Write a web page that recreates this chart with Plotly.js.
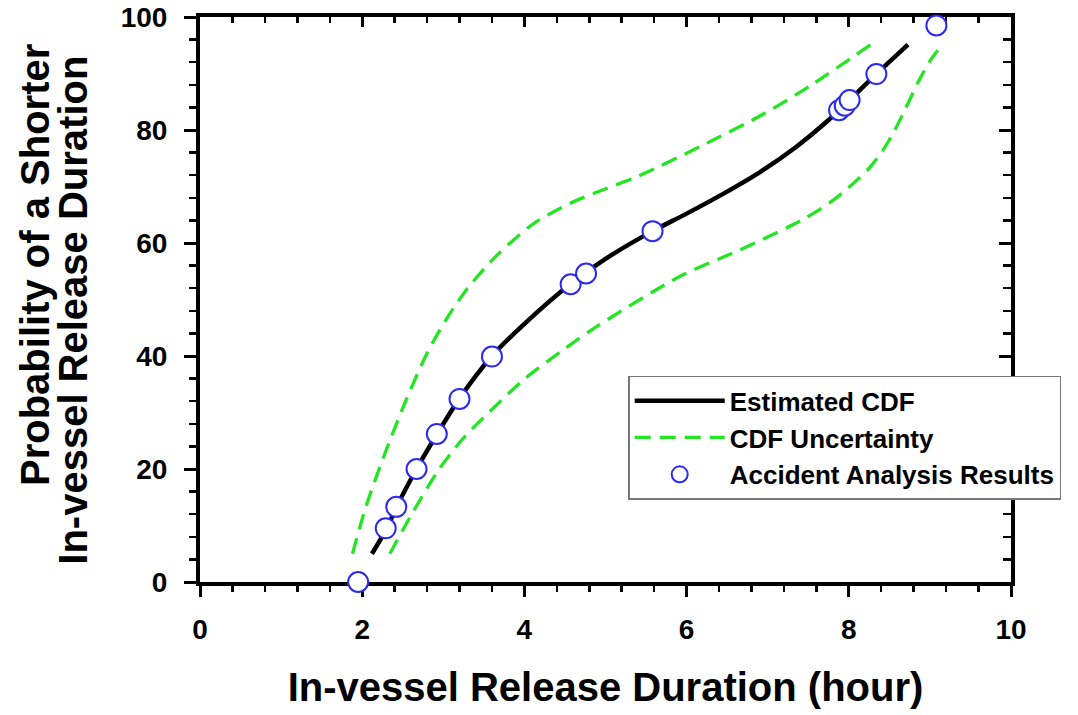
<!DOCTYPE html>
<html>
<head>
<meta charset="utf-8">
<script src="https://cdn.plot.ly/plotly-3.0.1.min.js"></script>
<style>html,body{margin:0;padding:0;background:#fff;}#chart{width:1078px;height:715px;}</style>
</head>
<body>
<div id="chart"></div>
<script>
// Estimated CDF (solid black)
const cdfX = [2.12, 2.3, 2.42, 2.67, 2.92, 3.2, 3.6, 4.0, 4.57, 5.0, 5.58, 6.0, 6.45, 6.91, 7.35, 7.73, 8.0, 8.34, 8.73];
const cdfY = [5.0, 9.4, 13.2, 20.0, 26.1, 32.5, 40.0, 45.7, 52.8, 57.2, 62.1, 65.2, 68.7, 72.6, 77.0, 81.5, 85.2, 89.9, 95.1];
// CDF uncertainty upper bound (green dashed)
const upX = [1.88, 2.05, 2.30, 2.55, 2.80, 3.05, 3.30, 3.66, 4.11, 4.56, 4.93, 5.40, 6.17, 6.97, 7.52, 8.28];
const upY = [5.0, 13.5, 23.5, 32.5, 40.5, 46.8, 52.0, 57.8, 63.4, 67.0, 69.2, 71.8, 77.1, 83.0, 87.8, 95.2];
// CDF uncertainty lower bound (green dashed)
const loX = [2.34, 2.63, 2.95, 3.25, 3.49, 3.99, 4.48, 4.89, 5.92, 6.66, 7.44, 7.80, 8.06, 8.26, 8.42, 8.56, 8.70, 8.85, 9.00, 9.17];
const loY = [5.0, 12.5, 20.0, 25.5, 29.0, 35.8, 41.1, 45.2, 54.1, 58.8, 64.2, 67.5, 70.6, 73.4, 76.4, 79.8, 83.8, 88.3, 92.2, 95.4];
// Accident analysis results (open circles)
const ptX = [1.95, 2.29, 2.42, 2.67, 2.92, 3.20, 3.60, 4.57, 4.76, 5.58, 7.88, 7.95, 8.01, 8.34, 9.08];
const ptY = [0, 9.5, 13.3, 20.0, 26.2, 32.4, 39.9, 52.7, 54.6, 62.1, 83.5, 84.3, 85.3, 89.9, 98.5];

const xTickVals = [0, 2, 4, 6, 8, 10];
const yTickVals = [0, 20, 40, 60, 80, 100];
const names = ['Estimated CDF', 'CDF Uncertainty', 'Accident Analysis Results'];
const xTitle = 'In-vessel Release Duration (hour)';
const yTitleLines = ['Probability of a Shorter', 'In-vessel Release Duration'];

const FONT = 'Liberation Sans, Arial, Helvetica, sans-serif';
const GREEN = '#22e622';
const BLUE = '#2a2af0';

const traces = [
  {x: cdfX, y: cdfY, type: 'scatter', mode: 'lines', name: names[0],
   line: {color: '#000', width: 4.5, shape: 'spline', smoothing: 0.8}},
  {x: upX, y: upY, type: 'scatter', mode: 'lines', name: names[1], legendgroup: 'unc',
   line: {color: GREEN, width: 3.3, dash: '16px,9px', shape: 'spline', smoothing: 0.8}},
  {x: loX, y: loY, type: 'scatter', mode: 'lines', name: names[1], legendgroup: 'unc', showlegend: false,
   line: {color: GREEN, width: 3.3, dash: '16px,9px', shape: 'spline', smoothing: 0.8}},
  {x: ptX, y: ptY, type: 'scatter', mode: 'markers', name: names[2], cliponaxis: false,
   marker: {symbol: 'circle', size: 20, color: '#fff', line: {color: BLUE, width: 2}}},
  {x: [], y: [], xaxis: 'x2', yaxis: 'y2', type: 'scatter', mode: 'markers', showlegend: false, hoverinfo: 'skip'}
];

const tickFont = {family: FONT, size: 28, color: '#000', weight: 'bold'};
const titleFont = {family: FONT, size: 40, color: '#000', weight: 'bold'};

const layout = {
  width: 1078, height: 715,
  paper_bgcolor: '#fff', plot_bgcolor: '#fff',
  margin: {l: 200, r: 67, t: 17, b: 133, autoexpand: false},
  showlegend: true,
  legend: {
    x: 0.528, y: 0.365, xanchor: 'left', yanchor: 'top',
    bgcolor: '#fff', bordercolor: '#777', borderwidth: 1.5,
    font: {family: FONT, size: 26, color: '#000', weight: 'bold'},
    itemwidth: 90, tracegroupgap: 0
  },
  annotations: [
    {text: yTitleLines[0], xref: 'paper', yref: 'paper', x: -0.2035, y: 0.561, textangle: -90,
     showarrow: false, xanchor: 'center', yanchor: 'middle', font: titleFont},
    {text: yTitleLines[1], xref: 'paper', yref: 'paper', x: -0.156, y: 0.481, textangle: -90,
     showarrow: false, xanchor: 'center', yanchor: 'middle', font: titleFont}
  ],
  xaxis: {
    range: [0, 10], tickvals: xTickVals, ticktext: xTickVals.map(String),
    showgrid: false, zeroline: false, showline: true, linecolor: '#000', linewidth: 4,
    ticks: 'outside', ticklen: 11, tickwidth: 3, tickcolor: '#000', ticklabelstandoff: 8,
    minor: {dtick: 0.4, tick0: 0, ticks: 'outside', ticklen: 6, tickwidth: 2.5, tickcolor: '#000', showgrid: false},
    tickfont: tickFont, layer: 'below traces',
    title: {text: xTitle, font: titleFont, standoff: 30}
  },
  yaxis: {
    range: [0, 100], tickvals: yTickVals, ticktext: yTickVals.map(String),
    showgrid: false, zeroline: false, showline: true, linecolor: '#000', linewidth: 4,
    ticks: 'outside', ticklen: 12, tickwidth: 3, tickcolor: '#000', ticklabelstandoff: 11,
    minor: {dtick: 4, tick0: 0, ticks: 'outside', ticklen: 7, tickwidth: 2.5, tickcolor: '#000', showgrid: false},
    tickfont: tickFont, layer: 'below traces'
  },
  xaxis2: {
    overlaying: 'x', side: 'top', anchor: 'y', range: [0, 10], tickvals: xTickVals,
    showticklabels: false, showgrid: false, zeroline: false, showline: true, linecolor: '#000', linewidth: 4,
    ticks: 'inside', ticklen: 10, tickwidth: 3, tickcolor: '#000',
    minor: {dtick: 0.4, tick0: 0, ticks: 'inside', ticklen: 6, tickwidth: 2.5, tickcolor: '#000', showgrid: false},
    layer: 'below traces'
  },
  yaxis2: {
    overlaying: 'y', side: 'right', anchor: 'x', range: [0, 100], tickvals: yTickVals,
    showticklabels: false, showgrid: false, zeroline: false, showline: true, linecolor: '#000', linewidth: 4,
    ticks: 'inside', ticklen: 12, tickwidth: 3, tickcolor: '#000',
    minor: {dtick: 4, tick0: 0, ticks: 'inside', ticklen: 8, tickwidth: 2.5, tickcolor: '#000', showgrid: false},
    layer: 'below traces'
  }
};

Plotly.newPlot('chart', traces, layout, {displayModeBar: false, staticPlot: true});
</script>
</body>
</html>
